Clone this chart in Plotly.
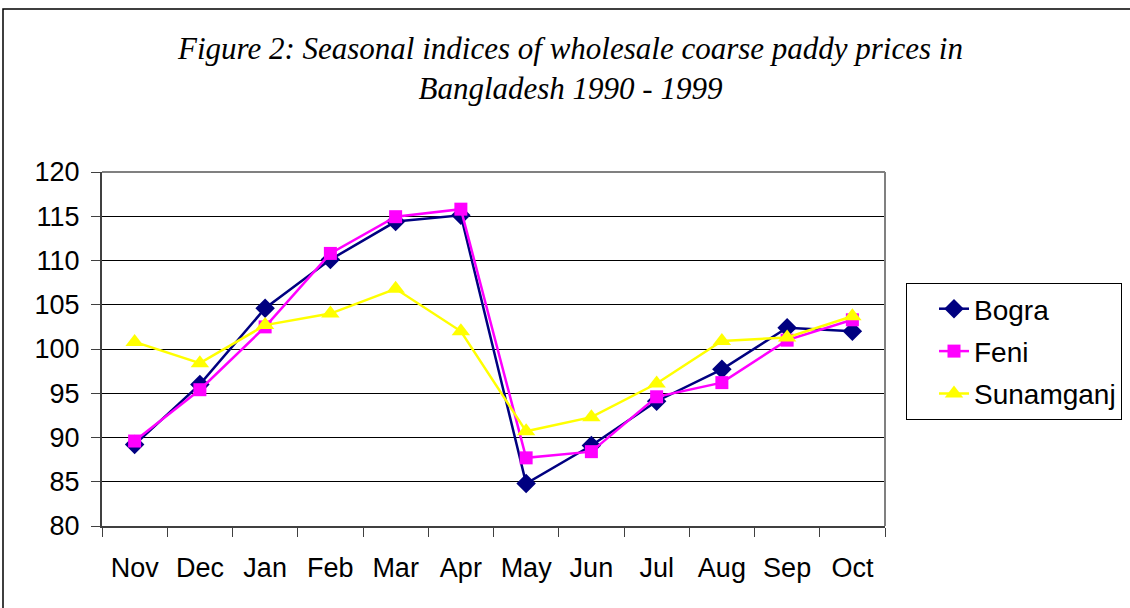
import plotly.graph_objects as go

months = ["Nov", "Dec", "Jan", "Feb", "Mar", "Apr", "May", "Jun", "Jul", "Aug", "Sep", "Oct"]
bogra = [89.2, 96.0, 104.6, 110.1, 114.4, 115.1, 84.8, 89.1, 94.1, 97.7, 102.4, 102.0]
feni = [89.6, 95.4, 102.5, 110.8, 114.95, 115.8, 87.7, 88.4, 94.6, 96.2, 101.0, 103.3]
sunamganj = [100.8, 98.4, 102.7, 104.0, 106.8, 102.0, 90.7, 92.3, 96.1, 100.9, 101.3, 103.7]
y_ticks = [80, 85, 90, 95, 100, 105, 110, 115, 120]

W, H = 1130, 608
L, R, T, B = 102, 885, 172, 526

def px(x):
    return (x - L) / (R - L)

def py(y):
    return (B - y) / (B - T)

fig = go.Figure()
series = [
    ("Bogra", bogra, "#000080", "diamond", 15),
    ("Feni", feni, "#FF00FF", "square", 13),
    ("Sunamganj", sunamganj, "#FFFF00", "triangle-up", 16),
]
for i, (name, vals, col, sym, ms) in enumerate(series):
    fig.add_trace(go.Scatter(
        x=months, y=vals, name=name, mode="lines+markers",
        line=dict(color=col, width=2.5),
        marker=dict(symbol=sym, size=ms, color=col, line=dict(width=0)),
        legendgroup=f"g{i}",
    ))

fig.update_layout(
    width=W, height=H,
    margin=dict(l=L, r=W - R, t=T, b=H - B, autoexpand=False),
    paper_bgcolor="white", plot_bgcolor="white",
    font=dict(family="Liberation Sans, Arial", color="black", size=27),
    showlegend=True,
    legend=dict(
        x=px(906), y=py(283), xanchor="left", yanchor="top",
        bordercolor="black", borderwidth=1, bgcolor="white",
        font=dict(size=28, family="Liberation Sans, Arial"),
        tracegroupgap=3, indentation=27,
    ),
    xaxis=dict(
        type="category", range=[-0.5, 11.5], tickson="boundaries",
        ticks="outside", ticklen=9, tickcolor="#404040", tickwidth=1,
        showline=True, linecolor="#404040", linewidth=2,
        showgrid=False, zeroline=False, ticklabelstandoff=17,
        tickfont=dict(size=27),
    ),
    yaxis=dict(
        range=[80, 120], tickvals=y_ticks,
        ticks="outside", ticklen=9, tickcolor="#404040", tickwidth=1,
        showline=True, linecolor="#404040", linewidth=2,
        showgrid=True, gridcolor="black", gridwidth=1, zeroline=False,
        ticklabelstandoff=6, tickfont=dict(size=27),
    ),
)

# plot area top and right border (gray)
fig.add_shape(type="line", xref="paper", yref="paper", x0=0, x1=1, y0=1, y1=1,
              line=dict(color="#808080", width=2))
fig.add_shape(type="line", xref="paper", yref="paper", x0=1, x1=1, y0=0, y1=1,
              line=dict(color="#808080", width=2))
# outer chart border
fig.add_shape(type="rect", xref="paper", yref="paper",
              x0=px(3), x1=px(1140), y0=py(620), y1=py(9),
              line=dict(color="black", width=1.5), layer="below")

fig.add_annotation(
    text="Figure 2: Seasonal indices of wholesale coarse paddy prices in<br>Bangladesh 1990 - 1999",
    xref="paper", yref="paper", x=px(570), y=py(69), xanchor="center", yanchor="middle",
    showarrow=False, align="center",
    font=dict(family="Liberation Serif, Times New Roman", size=31, style="italic", color="black"),
)

fig.write_html("out.html", config={"displayModeBar": False},
               post_script="document.body.style.margin='0';")
